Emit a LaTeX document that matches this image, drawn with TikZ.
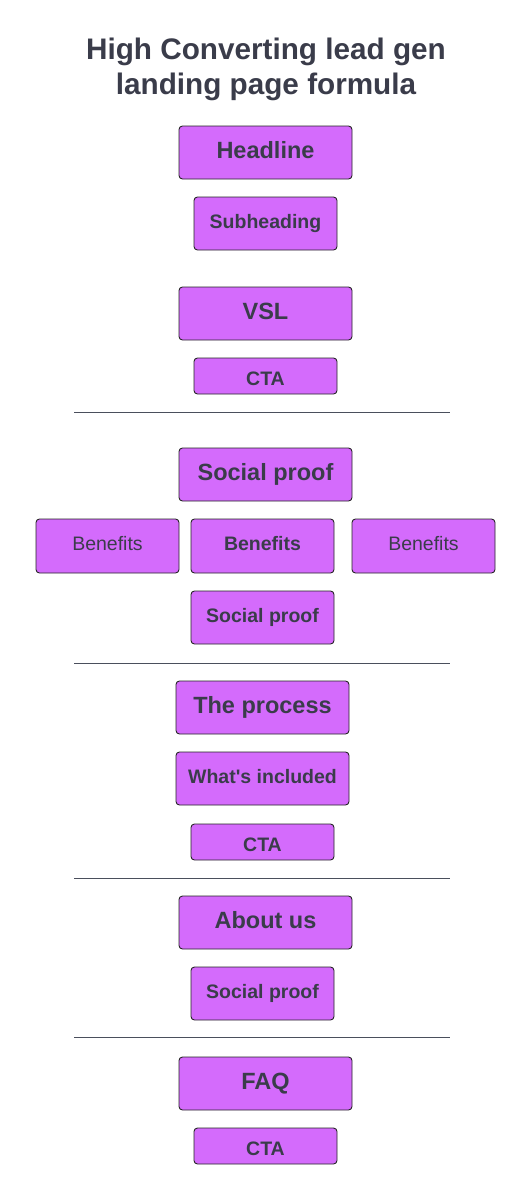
\documentclass[tikz,border=0pt]{standalone}
\usepackage{fontspec}
\setmainfont{Liberation Sans}
\definecolor{boxfill}{HTML}{D46BFC}
\definecolor{txt}{HTML}{3A3C4A}
\definecolor{rule}{HTML}{4A4F5C}
\begin{document}
\begin{tikzpicture}[x=1pt,y=-1pt,
  box/.style={draw=black!85, line width=0.9pt, fill=boxfill, rounded corners=3.5pt, text=txt, inner sep=0pt, align=center},
  big/.style={box, minimum width=173pt, minimum height=53pt, font=\fontsize{23.5}{28}\selectfont\bfseries, text height=16.8pt, text depth=5pt},
  small/.style={box, minimum width=143pt, minimum height=53pt, font=\fontsize{19.5}{23}\selectfont\bfseries, text height=14pt, text depth=5pt},
  smallreg/.style={box, minimum width=143pt, minimum height=54pt, font=\fontsize{19.5}{23}\selectfont, text height=14pt, text depth=5pt},
  cta/.style={box, minimum width=143pt, minimum height=36pt, font=\fontsize{19.5}{23}\selectfont\bfseries, text height=18pt, text depth=0pt},
  sep/.style={draw=rule, line width=1pt}]
\useasboundingbox (0,0) rectangle (531,1200);
\node[text=txt, font=\fontsize{29.7}{35}\selectfont\bfseries, align=center] (title) at (266,69) {High Converting lead gen\\landing page formula};
\node[big] (headline) at (265.5,152.5) {Headline};
\node[small] (sub) at (265.5,223.5) {Subheading};
\node[big] (vsl) at (265.5,313.5) {VSL};
\node[cta] (cta1) at (265.5,376) {CTA};
\coordinate (l1a) at (74,412); \coordinate (l1b) at (450,412);
\draw[sep] (l1a) -- (l1b);
\node[big] (sp1) at (265.5,474.5) {Social proof};
\node[smallreg] (ben1) at (107.5,546) {Benefits};
\node[small, minimum height=54pt] (ben2) at (262.5,546) {Benefits};
\node[smallreg] (ben3) at (423.5,546) {Benefits};
\node[small] (sp2) at (262.5,617.5) {Social proof};
\coordinate (l2a) at (74,663); \coordinate (l2b) at (450,663);
\draw[sep] (l2a) -- (l2b);
\node[big] (proc) at (262.5,707.5) {The process};
\node[small, minimum width=173pt] (incl) at (262.5,778.5) {What\textquotesingle s included};
\node[cta] (cta2) at (262.5,842) {CTA};
\coordinate (l3a) at (74,878); \coordinate (l3b) at (450,878);
\draw[sep] (l3a) -- (l3b);
\node[big] (about) at (265.5,922.5) {About us};
\node[small] (sp3) at (262.5,993.5) {Social proof};
\coordinate (l4a) at (74,1037); \coordinate (l4b) at (450,1037);
\draw[sep] (l4a) -- (l4b);
\node[big] (faq) at (265.5,1083.5) {FAQ};
\node[cta] (cta3) at (265.5,1146) {CTA};
\end{tikzpicture}
\end{document}
